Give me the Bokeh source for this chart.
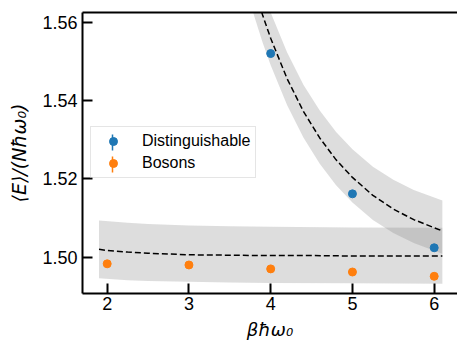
import numpy as np
from bokeh.plotting import figure
from bokeh.models import (Range1d, FixedTicker, LinearAxis, Legend, LegendItem,
                          NumeralTickFormatter)
from bokeh.embed import file_html
from bokeh.resources import INLINE

# ---------------- data ----------------
beta_dist = [4, 5, 6]
E_dist = [1.5521, 1.5162, 1.5024]
err_dist = [0.0004, 0.0004, 0.0004]

beta_bos = [2, 3, 4, 5, 6]
E_bos = [1.4983, 1.4980, 1.4970, 1.4962, 1.4951]
err_bos = [0.0003, 0.0003, 0.0003, 0.0003, 0.0003]

fit_dist_beta = [3.7, 3.8, 3.9, 4.0, 4.2, 4.4, 4.6, 4.8, 5.0, 5.25, 5.5, 5.75, 6.1]
fit_dist_E = [1.5760, 1.5686, 1.5620, 1.5560, 1.5457, 1.5373, 1.5305, 1.5249,
              1.5204, 1.5158, 1.5123, 1.5096, 1.5067]
band_dist_hi = [1.5824, 1.5751, 1.5686, 1.5626, 1.5524, 1.5441, 1.5375, 1.5320,
                1.5276, 1.5231, 1.5198, 1.5172, 1.5145]
band_dist_lo = [1.5689, 1.5616, 1.5550, 1.5491, 1.5389, 1.5306, 1.5239, 1.5184,
                1.5140, 1.5095, 1.5062, 1.5036, 1.5009]

fit_bos_beta = [1.9, 2.0, 2.25, 2.5, 2.75, 3.0, 3.5, 4.0, 4.5, 5.0, 5.5, 6.1]
fit_bos_E = [1.5020, 1.5017, 1.5013, 1.5010, 1.5008, 1.5006, 1.5005, 1.5004,
             1.5004, 1.5003, 1.5003, 1.5003]
band_bos_beta = [1.9, 2.25, 2.5, 3.0, 3.5, 4.0, 5.0, 6.1]
band_bos_hi = [1.5094, 1.5088, 1.5085, 1.5081, 1.5079, 1.5078, 1.5076, 1.5075]
band_bos_lo = [1.4946, 1.4941, 1.4939, 1.4937, 1.4935, 1.4934, 1.4933, 1.4932]

x_ticks = [2, 3, 4, 5, 6]
y_ticks = [1.50, 1.52, 1.54, 1.56]

labels = ["Distinguishable", "Bosons"]
colors = ["#1f77b4", "#ff7f0e"]

# ---------------- figure ----------------
W, H = 457, 343
BL, BR, BT, BB = 82, 0, 12, 50
FW, FH = W - BL - BR, H - BT - BB

p = figure(width=W, height=H, output_backend="svg", toolbar_location=None,
           x_range=Range1d(1.698, 6.285), y_range=Range1d(1.4907, 1.5626),
           min_border_left=BL, min_border_right=BR, min_border_top=BT,
           min_border_bottom=BB)
p.outline_line_color = None
p.xgrid.grid_line_color = None
p.ygrid.grid_line_color = None
p.background_fill_color = "white"
p.border_fill_color = "white"

for ax in (p.xaxis[0], p.yaxis[0]):
    ax.axis_line_width = 2
    ax.axis_line_color = "black"
    ax.major_tick_line_width = 2
    ax.major_tick_line_color = "black"
    ax.major_tick_in = 10
    ax.major_tick_out = 0
    ax.minor_tick_line_color = None
    ax.major_label_text_font = "Liberation Sans"
    ax.major_label_text_font_size = "18px"
    ax.major_label_text_color = "black"
    ax.axis_label_text_font = "DejaVu Sans"
    ax.axis_label_text_font_style = "italic"
    ax.axis_label_text_color = "black"

p.xaxis.axis_label_text_font_size = "18px"
p.yaxis.axis_label_text_font_size = "19px"
p.xaxis.ticker = FixedTicker(ticks=x_ticks)
p.yaxis.ticker = FixedTicker(ticks=y_ticks)
p.yaxis.formatter = NumeralTickFormatter(format="0.00")
p.xaxis.axis_label = "βħω₀"
p.yaxis.axis_label = "⟨E⟩/(Nħω₀)"
p.xaxis.major_label_standoff = 3
p.xaxis.axis_label_standoff = 6
p.yaxis.major_label_standoff = 5
p.yaxis.axis_label_standoff = 9

top_axis = LinearAxis(ticker=FixedTicker(ticks=[]), major_label_text_font_size="0px",
                      axis_line_width=2, axis_line_color="black",
                      major_tick_line_color=None, minor_tick_line_color=None)
p.add_layout(top_axis, "above")

# bands
p.varea(x=band_bos_beta, y1=band_bos_lo, y2=band_bos_hi, fill_color="gray", fill_alpha=0.27)
p.varea(x=fit_dist_beta, y1=band_dist_lo, y2=band_dist_hi, fill_color="gray", fill_alpha=0.27)

# fit lines
p.line(fit_dist_beta, fit_dist_E, line_color="black", line_dash="6 3", line_width=1.5)
p.line(fit_bos_beta, fit_bos_E, line_color="black", line_dash="6 3", line_width=1.5)

# error bars (tiny, behind markers) + points
Ed = np.array(E_dist); ed = np.array(err_dist)
Eb = np.array(E_bos); eb = np.array(err_bos)
p.segment(x0=beta_dist, y0=Ed - ed, x1=beta_dist, y1=Ed + ed,
          line_color=colors[0], line_width=1.5)
p.segment(x0=beta_bos, y0=Eb - eb, x1=beta_bos, y1=Eb + eb,
          line_color=colors[1], line_width=1.5)
pt_d = p.scatter(beta_dist, E_dist, size=8, color=colors[0])
pt_b = p.scatter(beta_bos, E_bos, size=8, color=colors[1])

# legend (nothing lies behind it, so its box is left unfilled)
LEG_X, LEG_Y, PAD, SPACING, GW, GH = 8, 115, 4, 2, 36, 20
leg = Legend(items=[LegendItem(label=labels[0], renderers=[pt_d]),
                    LegendItem(label=labels[1], renderers=[pt_b])],
             location=(LEG_X, LEG_Y), margin=0, padding=PAD, spacing=SPACING,
             glyph_width=GW, glyph_height=GH, label_height=GH, label_standoff=11,
             label_text_font="Liberation Sans", label_text_font_size="16px",
             label_text_color="black",
             border_line_color="#cccccc", border_line_width=1,
             background_fill_color="white", background_fill_alpha=0)
p.add_layout(leg, "center")

# vertical error-bar strokes of the legend handles, in a pixel-based frame range
p.extra_x_ranges = {"px": Range1d(0, FW)}
p.extra_y_ranges = {"px": Range1d(0, FH)}
gx = LEG_X + PAD + GW / 2
hx, hy0, hy1, hc = [], [], [], []
for i, c in enumerate(colors):
    gy = LEG_Y + PAD + GH / 2 + (len(colors) - 1 - i) * (GH + SPACING)
    hx.append(gx); hy0.append(gy - 8); hy1.append(gy + 8); hc.append(c)
p.segment(x0=hx, y0=hy0, x1=hx, y1=hy1, line_color=hc, line_width=1.5,
          x_range_name="px", y_range_name="px")

open("out.html", "w").write(file_html(p, INLINE))
